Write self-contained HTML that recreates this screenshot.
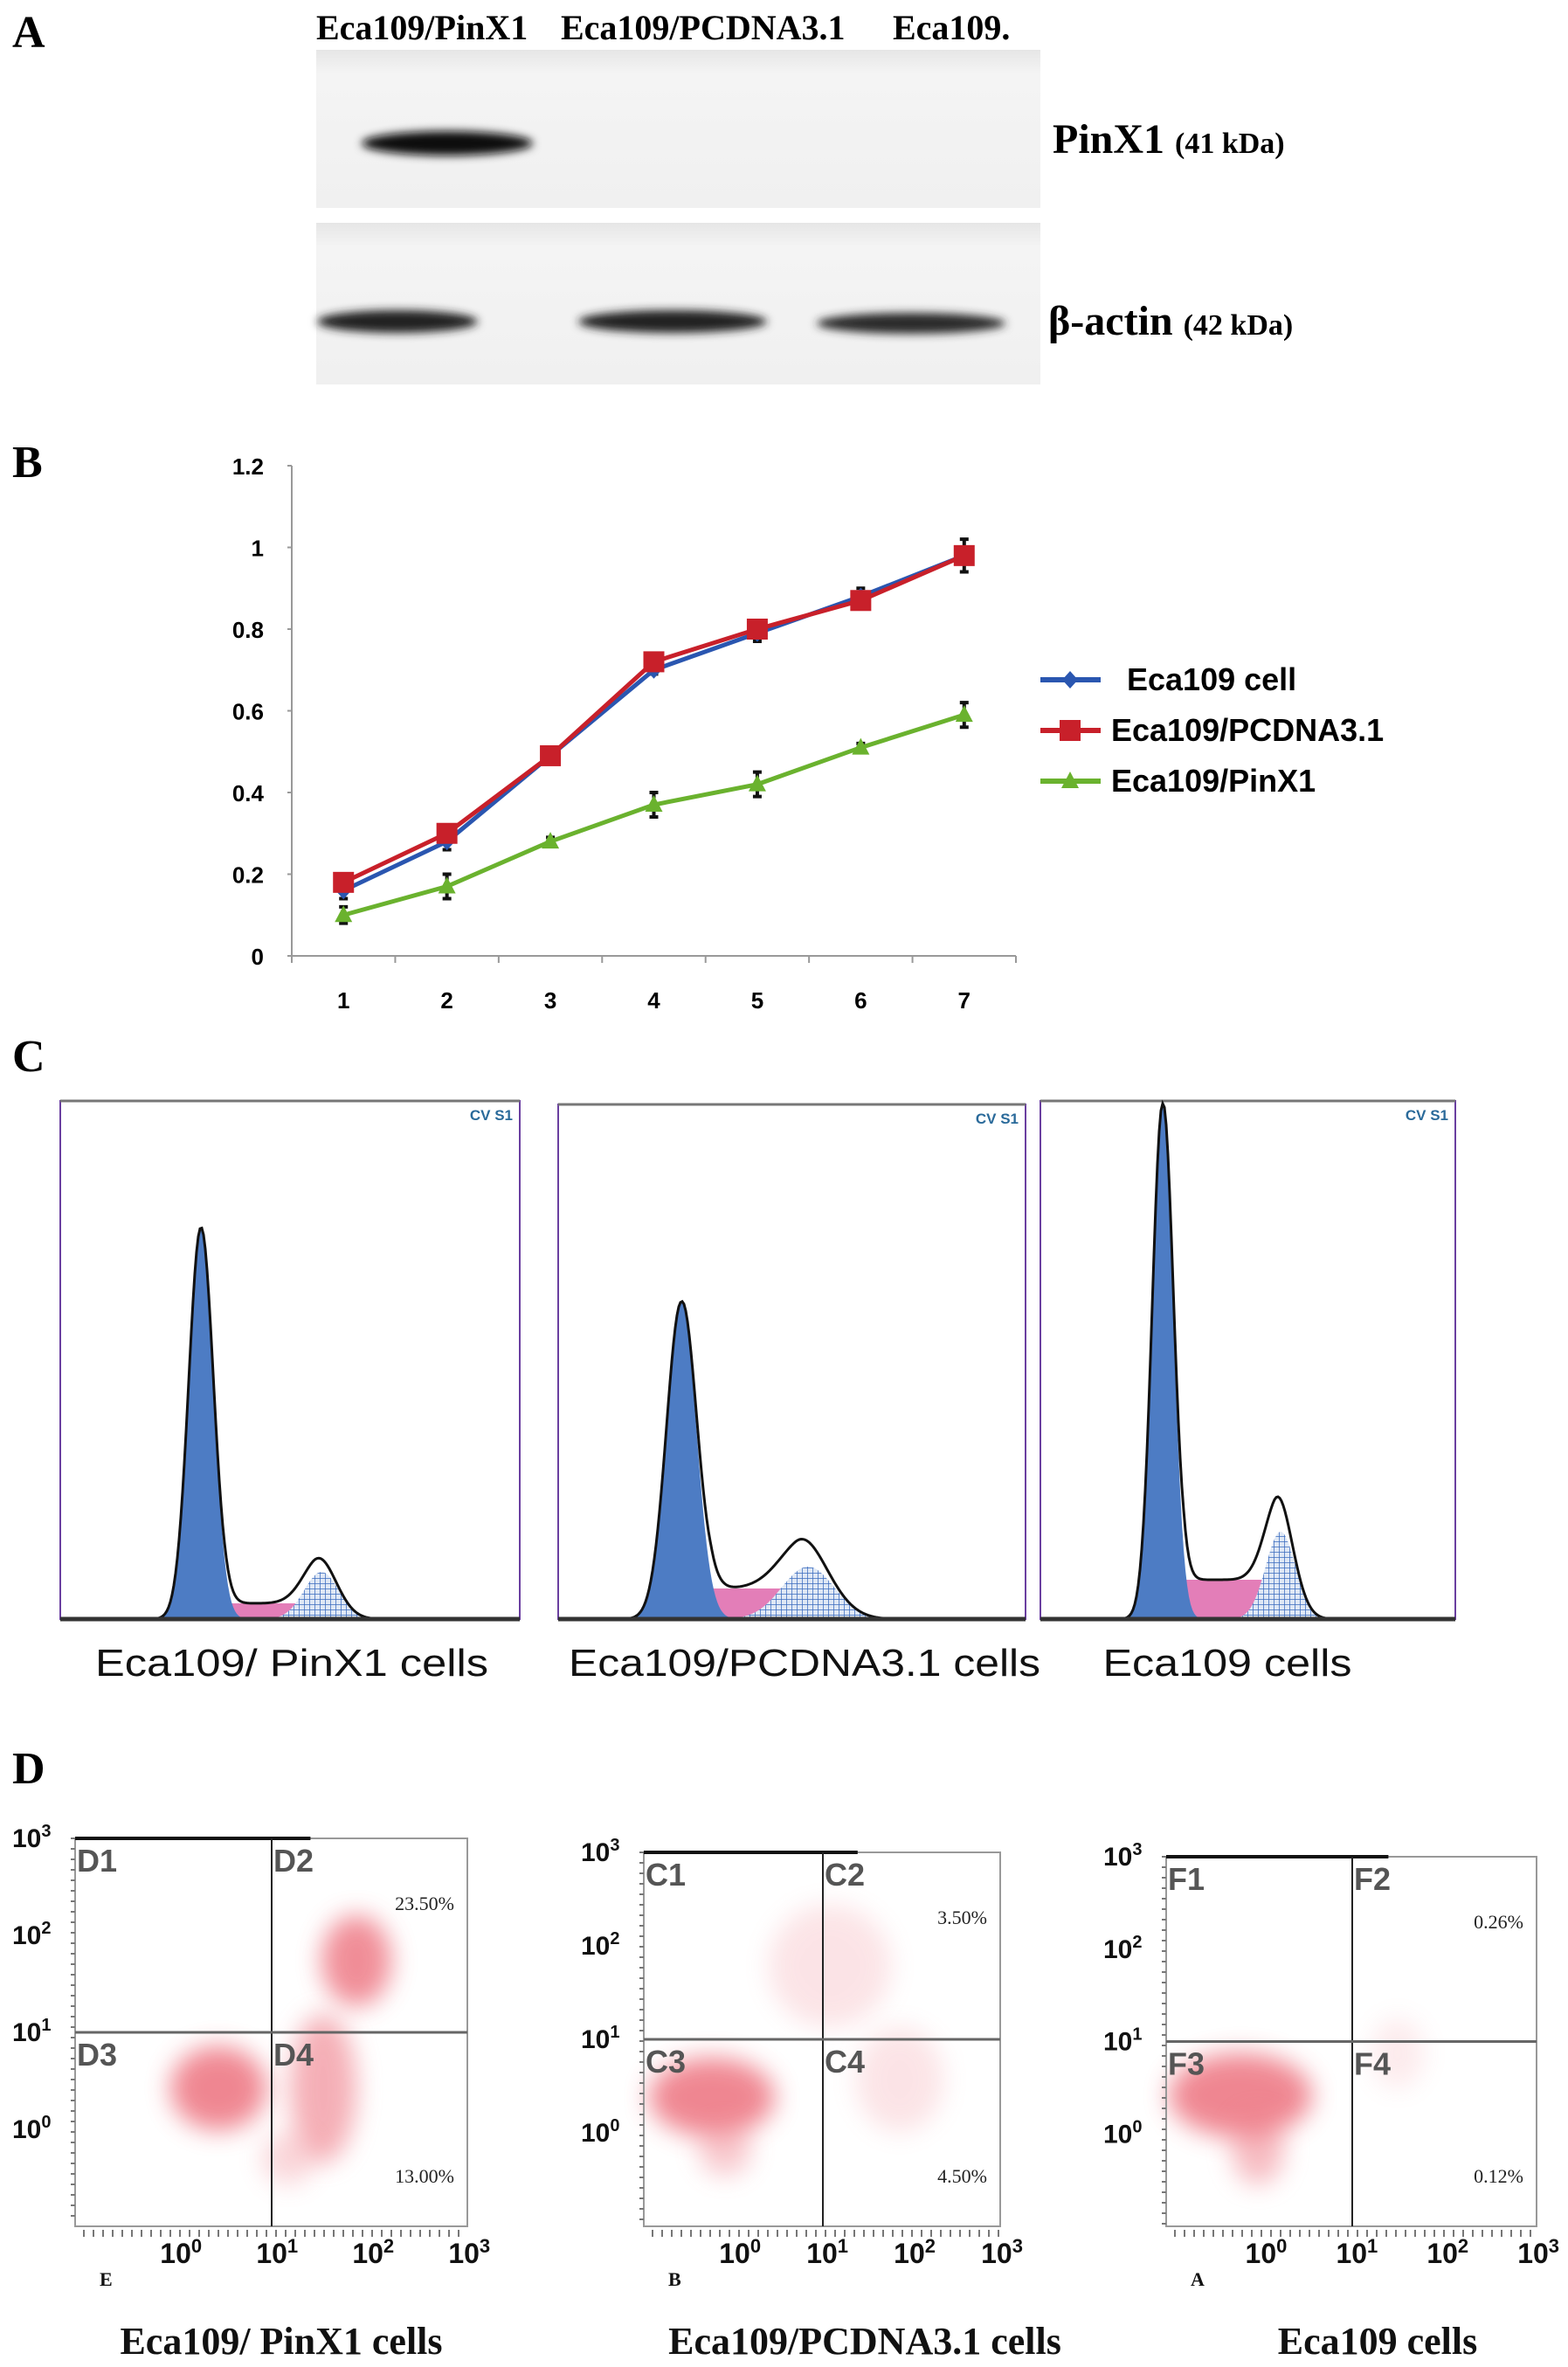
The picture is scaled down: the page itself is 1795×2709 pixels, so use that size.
<!DOCTYPE html>
<html><head><meta charset="utf-8">
<style>
body{margin:0;background:#fff;}
#root{position:relative;width:1795px;height:2709px;overflow:hidden;background:#fff;font-family:"Liberation Serif",serif;}
.abs{position:absolute;white-space:nowrap;}
.plab{font-family:"Liberation Serif",serif;font-weight:bold;font-size:52px;color:#000;}
</style></head><body>
<div id="root">
<!-- Panel A -->
<div class="abs plab" style="left:14px;top:8px">A</div>
<div class="abs" style="left:362px;top:8px;font-weight:bold;font-size:40px">Eca109/PinX1</div>
<div class="abs" style="left:642px;top:8px;font-weight:bold;font-size:40px">Eca109/PCDNA3.1</div>
<div class="abs" style="left:1022px;top:8px;font-weight:bold;font-size:40px">Eca109.</div>
<svg class="abs" style="left:0;top:0" width="1795" height="470">
<defs><filter id="bl" x="-20%" y="-50%" width="140%" height="200%"><feGaussianBlur stdDeviation="5"/></filter>
<linearGradient id="bg1" x1="0" y1="0" x2="0" y2="1"><stop offset="0" stop-color="#e6e6e6"/><stop offset="0.15" stop-color="#f4f4f4"/><stop offset="1" stop-color="#f0f0f0"/></linearGradient></defs>
<rect x="362" y="57" width="829" height="181" fill="url(#bg1)"/>
<rect x="362" y="255" width="829" height="185" fill="url(#bg1)"/>
<ellipse cx="512" cy="164" rx="98" ry="14" fill="#111" filter="url(#bl)"/>
<ellipse cx="455" cy="368" rx="92" ry="13" fill="#222" filter="url(#bl)"/>
<ellipse cx="770" cy="368" rx="108" ry="13" fill="#222" filter="url(#bl)"/>
<ellipse cx="1043" cy="370" rx="108" ry="12" fill="#2a2a2a" filter="url(#bl)"/>
</svg>
<div class="abs" style="left:1205px;top:132px;font-weight:bold;font-size:48px">PinX1 <span style="font-size:34px">(41 kDa)</span></div>
<div class="abs" style="left:1200px;top:340px;font-weight:bold;font-size:48px">β-actin <span style="font-size:34px">(42 kDa)</span></div>

<!-- Panel B -->
<div class="abs plab" style="left:14px;top:500px">B</div>
<svg id="chartB" class="abs" style="left:0;top:480px" width="1795" height="720"></svg>

<!-- Panel C -->
<div class="abs plab" style="left:14px;top:1180px">C</div>
<svg id="chartC" class="abs" style="left:0;top:1200px" width="1795" height="760"></svg>

<!-- Panel D -->
<div class="abs plab" style="left:14px;top:1995px">D</div>
<svg id="chartD" class="abs" style="left:0;top:2060px" width="1795" height="649"></svg>
</div>
<script>
// ---------- Panel B data ----------
const days = [1,2,3,4,5,6,7];
const yTicks = [0,0.2,0.4,0.6,0.8,1,1.2];
const yTickLabels = ["0","0.2","0.4","0.6","0.8","1","1.2"];
const seriesNames = ["Eca109 cell","Eca109/PCDNA3.1","Eca109/PinX1"];
const eca109 = [0.16,0.28,0.49,0.70,0.79,0.88,0.98];
const pcdna = [0.18,0.30,0.49,0.72,0.80,0.87,0.98];
const pinx1 = [0.10,0.17,0.28,0.37,0.42,0.51,0.59];
const eca109Err = [0.02,0.02,0.01,0.01,0.02,0.02,0.04];
const pcdnaErr = [0.01,0.02,0.01,0.01,0.02,0.02,0.02];
const pinx1Err = [0.02,0.03,0.01,0.03,0.03,0.01,0.03];

const NS='http://www.w3.org/2000/svg';
function mk(parent,tag,attrs){const e=document.createElementNS(NS,tag);for(const k in attrs)e.setAttribute(k,attrs[k]);parent.appendChild(e);return e;}

(function(){
const svg=document.getElementById('chartB');
const x0=334,x1=1163,yb=614,yt=53;
const xs=i=>x0+(x1-x0)/days.length*(i+0.5);
const ys=v=>yb-(yb-yt)*v/1.2;
const ax=mk(svg,'path',{d:`M${x0} ${yt}V${yb}H${x1}`,stroke:'#999',fill:'none','stroke-width':2});


yTicks.forEach((t,i)=>{
  const tk=mk(svg,'line',{x1:x0-5,x2:x0,y1:ys(t),y2:ys(t),stroke:'#999','stroke-width':2});
  
  
  const tx=mk(svg,'text',{x:x0-32,y:ys(t)+10,'text-anchor':'end','font-family':'"Liberation Sans Narrow","Liberation Sans",sans-serif','font-weight':'bold','font-size':26});
  tx.textContent=yTickLabels[i];
  
  
});
for(let i=0;i<=days.length;i++){
  const xx=x0+(x1-x0)/days.length*i;
  const tk=mk(svg,'line',{x1:xx,x2:xx,y1:yb,y2:yb+8,stroke:'#999','stroke-width':2});
  
  
}
days.forEach((d,i)=>{
  const tx=mk(svg,'text',{x:xs(i),y:yb+60,'text-anchor':'middle','font-family':'"Liberation Sans Narrow","Liberation Sans",sans-serif','font-weight':'bold','font-size':26});
  tx.textContent=d;
  
  
});
const defs=[[eca109,eca109Err,'#2a56b0','diamond'],[pcdna,pcdnaErr,'#c8202a','square'],[pinx1,pinx1Err,'#6ab22e','triangle']];
function marker(g,type,cx,cy,col){
  let m;
  if(type==='square')m=mk(g,'rect',{x:cx-12,y:cy-12,width:24,height:24,fill:col});
  else if(type==='diamond')m=mk(g,'path',{d:`M${cx} ${cy-10}L${cx+9} ${cy}L${cx} ${cy+10}L${cx-9} ${cy}Z`,fill:col});
  else m=mk(g,'path',{d:`M${cx} ${cy-11}L${cx+10} ${cy+8}L${cx-10} ${cy+8}Z`,fill:col});
  return m;
}
defs.forEach(([vals,errs,col,type],s)=>{
  const g=mk(svg,'g',{});
  
  
  vals.forEach((v,i)=>{
    const e=mk(g,'path',{d:`M${xs(i)} ${ys(v-errs[i])}V${ys(v+errs[i])}M${xs(i)-5} ${ys(v-errs[i])}h10M${xs(i)-5} ${ys(v+errs[i])}h10`,stroke:'#111','stroke-width':4});
    
    
  });
  const l=mk(g,'polyline',{points:vals.map((v,i)=>xs(i)+','+ys(v)).join(' '),fill:'none',stroke:col,'stroke-width':5});
  
  
  vals.forEach((v,i)=>{
    const m=marker(g,type,xs(i),ys(v),col);
    
    
  });
  const ly=298+s*58;
  const ll=mk(g,'line',{x1:1191,x2:1260,y1:ly,y2:ly,stroke:col,'stroke-width':6});
  
  
  const lm=marker(g,type,1225,ly,col);
  
  
  const lt=mk(g,'text',{x:s===0?1290:1272,y:ly+12,'font-family':'"Liberation Sans Narrow","Liberation Sans",sans-serif','font-weight':'bold','font-size':36});
  lt.textContent=seriesNames[s];
  
  
});
})();

// ---------- Panel C ----------
const histLabels=["Eca109/ PinX1 cells","Eca109/PCDNA3.1 cells","Eca109 cells"];
const histBoxes=[[69,595,60],[639,1174,64],[1191,1666,60]];
const g1Mu=[230,780,1331], g1Amp=[448,363,590], g1Sd=[14,17,12];
const g2Mu=[368,925,1466], g2Amp=[54,60,100], g2Sd=[20,30,17];
const sAmp=[18,35,45];
(function(){
const svg=document.getElementById('chartC');
const defs=mk(svg,'defs',{});
const pat=mk(defs,'pattern',{id:'hatch',width:6,height:6,patternUnits:'userSpaceOnUse'});
mk(pat,'rect',{width:6,height:6,fill:'#dfe8f5'});
mk(pat,'path',{d:'M0 0H6M0 0V6',stroke:'#3a6bbf','stroke-width':1.5});
const base=653;
const gauss=(x,m,a,s)=>a*Math.exp(-0.5*((x-m)/s)**2);
const centers=[334,921,1405];
histBoxes.forEach((b,k)=>{
  const g=mk(svg,'g',{});
  
  
  const [xa,xb,yt]=b;
  const fr=mk(g,'rect',{x:xa,y:yt,width:xb-xa,height:base-yt,fill:'none',stroke:'#6a3fa0','stroke-width':2});
  
  
  mk(g,'line',{x1:xa,x2:xb,y1:yt,y2:yt,stroke:'#777','stroke-width':3});
  const sF=x=>{const c=g2Mu[k]-g2Sd[k]*0.5;if(x<g1Mu[k])return 0;const t=Math.min(1,(x-g1Mu[k])/(g1Sd[k]*2));const e=x>c?Math.exp(-0.5*((x-c)/(g2Sd[k]*0.8))**2):1;return sAmp[k]*t*e;};
  let p1='',p2='',p3='',pf='';
  for(let x=xa;x<=xb;x+=2){
    const a=gauss(x,g1Mu[k],g1Amp[k],g1Sd[k]),c=gauss(x,g2Mu[k],g2Amp[k],g2Sd[k]),s=sF(x);
    p1+=`L${x} ${base-a}`;p2+=`L${x} ${base-c}`;p3+=`L${x} ${base-s}`;pf+=`L${x} ${base-a-c-s}`;
  }
  const s1=mk(g,'path',{d:`M${xa} ${base}${p3}L${xb} ${base}Z`,fill:'#e070b0',opacity:0.9});
  
  
  const c2=mk(g,'path',{d:`M${xa} ${base}${p2}L${xb} ${base}Z`,fill:'url(#hatch)'});
  
  
  const c1=mk(g,'path',{d:`M${xa} ${base}${p1}L${xb} ${base}Z`,fill:'#4d7cc4'});
  
  
  const fit=mk(g,'path',{d:'M'+pf.slice(1),fill:'none',stroke:'#111','stroke-width':3});
  
  
  const bl=mk(g,'line',{x1:xa,x2:xb,y1:base,y2:base,stroke:'#333','stroke-width':5});
  
  
  const cv=mk(g,'text',{x:xb-8,y:yt+22,'text-anchor':'end','font-family':'"Liberation Sans",sans-serif','font-weight':'bold','font-size':17,fill:'#2a6a9a'});
  cv.textContent='CV S1';
  
  
  const lb=mk(g,'text',{x:centers[k],y:718,'text-anchor':'middle','font-family':'"Liberation Sans",sans-serif','font-size':44,fill:'#111','textLength':[450,540,285][k],'lengthAdjust':'spacingAndGlyphs'});
  lb.textContent=histLabels[k];
  
  
});
})();

// ---------- Panel D ----------
const quadPrefix=["D","C","F"];
const cornerLetters=["E","B","A"];
const urPct=["23.50%","3.50%","0.26%"];
const lrPct=["13.00%","4.50%","0.12%"];
const dotLabels=["Eca109/ PinX1 cells","Eca109/PCDNA3.1 cells","Eca109 cells"];
const dBoxes=[[86,535,44],[737,1145,60],[1335,1759,65]];
const dVx=[311,942,1548];
(function(){
const svg=document.getElementById('chartD');
const defs=mk(svg,'defs',{});
const f=mk(defs,'filter',{id:'cb',x:'-50%',y:'-50%',width:'200%',height:'200%'});
mk(f,'feGaussianBlur',{stdDeviation:14});
const yb=488;
// clouds: [cx,cy,rx,ry,opacity] per panel
const clouds=[
 [[250,330,55,48,0.9],[408,184,40,52,0.85],[370,330,38,85,0.6],[330,410,30,30,0.3]],
 [[815,340,72,45,0.9],[950,190,70,70,0.2],[1030,320,50,60,0.2],[830,400,30,30,0.4]],
 [[1420,338,82,48,0.9],[1440,400,30,40,0.5],[1600,290,30,40,0.15]]
];
dBoxes.forEach((b,k)=>{
  const g=mk(svg,'g',{});
  
  
  const [xa,xb,yt]=b; const vx=dVx[k]; const my=(yt+yb)/2;
  clouds[k].forEach(c=>{
    const e=mk(g,'ellipse',{cx:c[0],cy:c[1],rx:c[2],ry:c[3],fill:'#ee7a86',opacity:c[4],filter:'url(#cb)'});
    
    
  });
  const fr=mk(g,'rect',{x:xa,y:yt,width:xb-xa,height:yb-yt,fill:'none',stroke:'#999','stroke-width':2});
  
  
  mk(g,'line',{x1:xa,x2:xa+(xb-xa)*0.6,y1:yt,y2:yt,stroke:'#111','stroke-width':4});
  const vl=mk(g,'line',{x1:vx,x2:vx,y1:yt,y2:yb,stroke:'#222','stroke-width':2});
  
  
  const hl=mk(g,'line',{x1:xa,x2:xb,y1:my,y2:my,stroke:'#666','stroke-width':3});
  
  
  const yl=[[yt,'3'],[yt+(my-yt)*0.5,'2'],[my,'1'],[my+(yb-my)*0.5,'0']];
  yl.forEach(([yy,e])=>{
    const t=mk(g,'text',{x:xa-72,y:yy+10,'font-family':'"Liberation Sans Narrow","Liberation Sans",sans-serif','font-weight':'bold','font-size':30,fill:'#111'});
    t.innerHTML='10<tspan dy="-12" font-size="20">'+e+'</tspan>';
    
    
  });
  for(let y=yt;y<yb;y+=12){mk(g,'line',{x1:xa-5,x2:xa,y1:y,y2:y,stroke:'#777','stroke-width':2});}
  for(let x=xa+10;x<xb;x+=11){mk(g,'line',{x1:x,x2:x,y1:yb+4,y2:yb+12,stroke:'#777','stroke-width':2});}
  const w=(xb-xa);
  [0,1,2,3].forEach(i=>{
    const xx=xa+w*(0.27+i*0.245);
    const t=mk(g,'text',{x:xx,y:yb+42,'text-anchor':'middle','font-family':'"Liberation Sans Narrow","Liberation Sans",sans-serif','font-weight':'bold','font-size':32,fill:'#111'});
    t.innerHTML='10<tspan dy="-12" font-size="22">'+i+'</tspan>';
    
    
  });
  const cl=mk(g,'text',{x:xa+28,y:yb+68,'font-family':'"Liberation Serif",serif','font-weight':'bold','font-size':22,fill:'#111'});
  cl.textContent=cornerLetters[k];
  
  
  [[xa+2,yt+38,1],[vx+2,yt+38,2],[xa+2,my+38,3],[vx+2,my+38,4]].forEach(([x,y,n])=>{
    const t=mk(g,'text',{x:x,y:y,'font-family':'"Liberation Sans",sans-serif','font-weight':'bold','font-size':36,fill:'#555'});
    t.textContent=quadPrefix[k]+n;
    
    
  });
  const p1=mk(g,'text',{x:xb-15,y:yt+82,'text-anchor':'end','font-family':'"Liberation Serif",serif','font-size':22,fill:'#222'});
  p1.textContent=urPct[k];
  
  
  const p2=mk(g,'text',{x:xb-15,y:yb-50,'text-anchor':'end','font-family':'"Liberation Serif",serif','font-size':22,fill:'#222'});
  p2.textContent=lrPct[k];
  
  
});
[322,990,1577].forEach((cx,k)=>{
  const t=mk(svg,'text',{x:cx,y:634,'text-anchor':'middle','font-family':'"Liberation Serif",serif','font-weight':'bold','font-size':44,fill:'#111'});
  t.textContent=dotLabels[k];
  
  
});
})();
</script>
</body></html>
